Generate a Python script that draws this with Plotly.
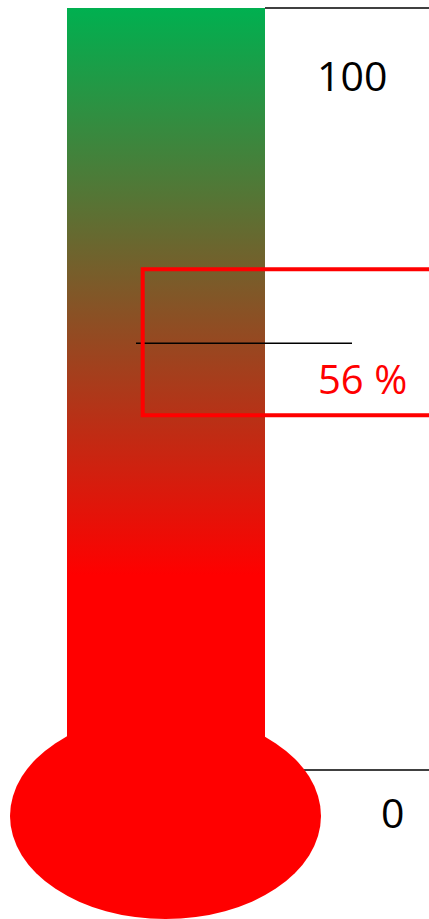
import plotly.graph_objects as go

# ---- data ----
value = [56]
value_labels = ["56 %"]
scale_values = [0, 100]
scale_labels = ["0", "100"]
bar_bottom = [-10]
gradient_red_until = [25.6]
colors_low_high = ["#FF0000", "#00B050"]

W, H = 429, 919
# axis: 0 -> pixel 770, 100 -> pixel 8
px_per_unit = (770 - 8) / 100
ymax = 100 + 8 / px_per_unit
ymin = 0 - (H - 770) / px_per_unit

fig = go.Figure()

# thermometer tube with vertical gradient
fig.add_trace(go.Scatter(
    x=[67, 265, 265, 67, 67],
    y=[bar_bottom[0], bar_bottom[0], scale_values[1], scale_values[1], bar_bottom[0]],
    mode="lines", line=dict(width=0), fill="toself",
    fillgradient=dict(type="vertical",
                      colorscale=[[0, colors_low_high[0]], [1, colors_low_high[1]]],
                      start=gradient_red_until[0], stop=scale_values[1]),
    hoverinfo="skip", showlegend=False,
))

shapes = []
# scale lines (0 and 100)
for v in scale_values:
    shapes.append(dict(type="line", xref="x", yref="y", x0=265, x1=W + 5, y0=v, y1=v,
                       line=dict(color="black", width=1.6), layer="above"))
# bulb
shapes.append(dict(type="circle", xref="x", yref="y", ysizemode="pixel", yanchor=scale_values[0],
                   x0=10, x1=321, y0=-149, y1=57,
                   fillcolor="#FF0000", line=dict(width=0), layer="above"))
# value marker line
shapes.append(dict(type="line", xref="x", yref="y", x0=136, x1=352, y0=value[0], y1=value[0],
                   line=dict(color="black", width=1.5), layer="above"))
# red label box around the value
shapes.append(dict(type="rect", xref="x", yref="y", ysizemode="pixel", yanchor=value[0],
                   x0=142.7, x1=W + 20, y0=-72, y1=74,
                   line=dict(color="#FF0000", width=4), fillcolor="rgba(0,0,0,0)", layer="above"))

annotations = [
    dict(x=352, y=scale_values[1], yshift=-66.5, text=scale_labels[1], showarrow=False,
         font=dict(family="Open Sans", size=41, color="black"), xanchor="center", yanchor="middle"),
    dict(x=392, y=scale_values[0], yshift=-41.5, text=scale_labels[0], showarrow=False,
         font=dict(family="Open Sans", size=41, color="black"), xanchor="center", yanchor="middle"),
    dict(x=362, y=value[0], yshift=-35, text=value_labels[0], showarrow=False,
         font=dict(family="Open Sans", size=40, color="#FF0000"), xanchor="center", yanchor="middle"),
]

fig.update_layout(
    width=W, height=H,
    margin=dict(l=0, r=0, t=0, b=0),
    paper_bgcolor="white", plot_bgcolor="white",
    xaxis=dict(range=[0, W], visible=False, fixedrange=True),
    yaxis=dict(range=[ymin, ymax], visible=False, fixedrange=True),
    shapes=shapes, annotations=annotations, showlegend=False,
)

fig.write_html("out.html", config={"displayModeBar": False})
